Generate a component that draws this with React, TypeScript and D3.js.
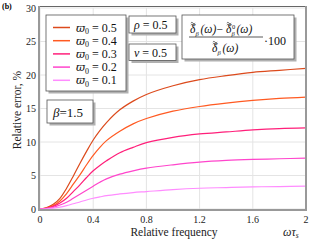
import React from "react";
import * as d3 from "d3";

const freq = [0, 0.05, 0.1, 0.15, 0.2, 0.25, 0.3, 0.35, 0.4, 0.45, 0.5, 0.6, 0.7, 0.8, 1.0, 1.2, 1.4, 1.6, 1.8, 2.0];
const err05 = [0, 0.2, 0.7, 1.6, 3.1, 4.9, 6.8, 8.6, 10.3, 11.7, 12.9, 14.8, 16.1, 17.1, 18.4, 19.3, 19.9, 20.4, 20.7, 21.0];
const err04 = [0, 0.15, 0.5, 1.2, 2.3, 3.7, 5.1, 6.6, 8.0, 9.2, 10.2, 11.6, 12.7, 13.5, 14.6, 15.3, 15.8, 16.2, 16.5, 16.7];
const err03 = [0, 0.1, 0.4, 0.9, 1.6, 2.6, 3.6, 4.7, 5.7, 6.5, 7.2, 8.4, 9.2, 9.9, 10.7, 11.2, 11.5, 11.8, 12.0, 12.1];
const err02 = [0, 0.08, 0.25, 0.6, 1.0, 1.6, 2.2, 2.8, 3.4, 4.0, 4.5, 5.2, 5.7, 6.1, 6.6, 7.0, 7.25, 7.4, 7.5, 7.6];
const err01 = [0, 0.04, 0.12, 0.27, 0.5, 0.78, 1.05, 1.35, 1.6, 1.8, 2.0, 2.25, 2.45, 2.6, 2.9, 3.1, 3.2, 3.3, 3.35, 3.4];
const seriesLabels = ["0.5", "0.4", "0.3", "0.2", "0.1"];
const seriesColors = ["#dc4a1c", "#ff5a22", "#ff1f7a", "#ff45cc", "#ff8cff"];
const xTicks = [0, 0.4, 0.8, 1.2, 1.6, 2];
const yTicks = [0, 5, 10, 15, 20, 25, 30];

const FS = { fontFamily: "'Liberation Serif'" };
const GREEK = { fontFamily: "'DejaVu Serif'" };

function Box({ x, y, w, h }: { x: number; y: number; w: number; h: number }) {
  return (
    <g>
      <rect x={x + 2.5} y={y + 2.5} width={w} height={h} fill="#b0b0b0" />
      <rect x={x} y={y} width={w} height={h} fill="#fff" stroke="#555" strokeWidth={0.8} />
    </g>
  );
}

function tilde(cx: number, cy: number) {
  return `M${cx - 2.2},${cy + 0.6} q1.1,-1.6 2.2,0 t2.2,0`;
}

function Delta({ x, y, sup }: { x: number; y: number; sup?: boolean }) {
  return (
    <g>
      <path d={tilde(x + 3, y - 8.5)} fill="none" stroke="#111" strokeWidth={0.6} />
      <path d={tilde(x + 3, y - 10.5)} fill="none" stroke="#111" strokeWidth={0.6} />
      <text x={x} y={y} fontSize={11.5} fontStyle="italic" style={FS}>δ</text>
      <text x={x + 5.5} y={y + 2.5} fontSize={6.5} fontStyle="italic" style={FS}>β</text>
      {sup ? <text x={x + 6} y={y - 4.5} fontSize={6.5} style={FS}>0</text> : null}
      <text x={x + 10.5} y={y} fontSize={11.5} fontStyle="italic" style={FS}>(ω)</text>
    </g>
  );
}

export default function App() {
  const width = 320;
  const height = 240;
  const x = d3.scaleLinear().domain([0, 2]).range([40, 306]);
  const y = d3.scaleLinear().domain([0, 30]).range([209, 8]);
  const all = [err05, err04, err03, err02, err01];
  const line = d3
    .line<number>()
    .x((_, i) => x(freq[i]))
    .y((d) => y(d))
    .curve(d3.curveCatmullRom.alpha(0.5));

  return (
    <svg width={width} height={height} style={{ position: "absolute", left: 0, top: 0 }}>
      <rect width={width} height={height} fill="#fff" />
      <text x={2} y={9} fontSize={8} fontWeight="bold" style={FS}>(b)</text>
      {xTicks.map((t) => (
        <line key={"gx" + t} x1={x(t)} x2={x(t)} y1={y(0)} y2={y(30)} stroke="#e4e4e4" strokeWidth={1} />
      ))}
      {yTicks.map((t) => (
        <line key={"gy" + t} x1={x(0)} x2={x(2)} y1={y(t)} y2={y(t)} stroke="#e4e4e4" strokeWidth={1} />
      ))}
      {all.map((s, i) => (
        <path key={"s" + i} d={line(s) || ""} fill="none" stroke={seriesColors[i]} strokeWidth={1.2} />
      ))}
      <line x1={x(0)} x2={x(2)} y1={y(30) - 1.5} y2={y(30) - 1.5} stroke="#666" strokeWidth={1} />
      <line x1={x(0) - 1} x2={x(0) - 1} y1={y(30) - 2} y2={y(0) + 1} stroke="#999" strokeWidth={2} />
      <line x1={x(2)} x2={x(2)} y1={y(30) - 2} y2={y(0) + 1} stroke="#999" strokeWidth={2} />
      <line x1={x(0) - 2} x2={x(2) + 1} y1={y(0) + 1} y2={y(0) + 1} stroke="#999" strokeWidth={2} />
      {yTicks.map((t) => (
        <text key={"ly" + t} x={36} y={y(t) + 3.5} fontSize={10} textAnchor="end" fill="#222" style={FS}>{t}</text>
      ))}
      {xTicks.map((t) => (
        <text key={"lx" + t} x={x(t)} y={223} fontSize={10} textAnchor="middle" fill="#222" style={FS}>{String(t)}</text>
      ))}
      <text x={174} y={236} fontSize={11.5} textAnchor="middle" fill="#222" style={FS}>Relative frequency</text>
      <text x={283} y={236} fontSize={12} fontStyle="italic" fill="#222" style={FS}>ωτ<tspan fontSize={7.5} dy={2}>s</tspan></text>
      <text transform="translate(21,110) rotate(-90)" fontSize={11.5} textAnchor="middle" fill="#222" style={FS}>Relative error, %</text>

      <Box x={46} y={15} w={80} h={76} />
      {seriesLabels.map((lab, i) => (
        <g key={"lg" + i}>
          <line x1={53} x2={70} y1={27.5 + i * 13.2} y2={27.5 + i * 13.2} stroke={seriesColors[i]} strokeWidth={1.5} />
          <text x={76} y={31.5 + i * 13.2} fontSize={12} fill="#111" style={FS}>
            <tspan fontStyle="italic" style={GREEK} fontSize={11}>ϖ</tspan>
            <tspan fontSize={8} dy={2.5}>0</tspan>
            <tspan dy={-2.5}> = {lab}</tspan>
          </text>
        </g>
      ))}

      <Box x={129} y={16} w={47} h={17} />
      <text x={134} y={29} fontSize={12} fill="#111" style={FS}><tspan fontStyle="italic">ρ</tspan> = 0.5</text>
      <Box x={129} y={44} w={47} h={16.5} />
      <text x={134} y={57} fontSize={12} fill="#111" style={FS}><tspan fontStyle="italic">ν</tspan> = 0.5</text>

      <Box x={182} y={15} w={112} h={44} />
      <g fill="#111">
        <Delta x={190} y={33} />
        <text x={216.5} y={33} fontSize={11.5} style={FS}>−</text>
        <Delta x={226} y={33} sup />
        <line x1={189} x2={263} y1={37} y2={37} stroke="#111" strokeWidth={0.7} />
        <Delta x={212} y={52} />
        <text x={264} y={45} fontSize={12} style={FS}>·100</text>
      </g>

      <Box x={47} y={100} w={46} h={23} />
      <text x={53} y={116.5} fontSize={13} fill="#111" style={FS}><tspan fontStyle="italic">β</tspan>=1.5</text>
    </svg>
  );
}
